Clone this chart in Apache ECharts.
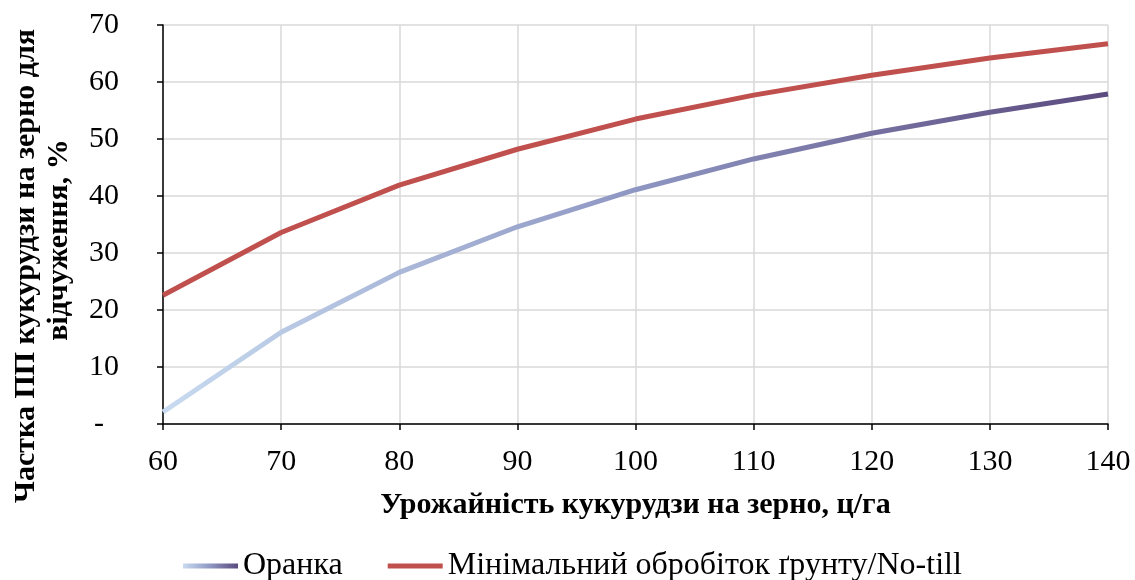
<!DOCTYPE html>
<html>
<head>
<meta charset="utf-8">
<script src="https://cdn.jsdelivr.net/npm/echarts@6/dist/echarts.min.js"></script>
<style>
  html, body { margin: 0; padding: 0; background: #fff; }
  #chart { width: 1135px; height: 580px; }
</style>
</head>
<body>
<div id="chart"></div>
<script>
// Урожайність, ц/га
const yields = [60, 70, 80, 90, 100, 110, 120, 130, 140];
// Частка побічної продукції для відчуження, %
const plowing = [2.1, 16.1, 26.6, 34.6, 41.1, 46.5, 51.0, 54.7, 57.9];
const noTill = [22.6, 33.6, 41.9, 48.2, 53.5, 57.7, 61.2, 64.2, 66.7];
const seriesNames = ['Оранка', 'Мінімальний обробіток ґрунту/No-till'];
const xTitle = 'Урожайність кукурудзи на зерно, ц/га';
const yTitleLines = ['Частка ПП кукурудзи на зерно для', 'відчуження, %'];

const serif = '"Liberation Serif", "Times New Roman", serif';
const plowGradient = new echarts.graphic.LinearGradient(0, 0, 1, 0, [
  { offset: 0, color: '#c8dbf0' },
  { offset: 0.5, color: '#8e96c2' },
  { offset: 1, color: '#5b4a7e' }
]);
const red = '#c0504d';

const chart = echarts.init(document.getElementById('chart'), null, { renderer: 'canvas' });
chart.setOption({
  animation: false,
  backgroundColor: '#ffffff',
  grid: { left: 163, right: 27, top: 25, bottom: 156, containLabel: false },
  xAxis: {
    type: 'value',
    min: 60, max: 140, interval: 10,
    name: xTitle,
    nameLocation: 'middle',
    nameGap: 66,
    nameTextStyle: { fontFamily: serif, fontWeight: 'bold', fontSize: 30, color: '#000' },
    axisLine: { onZero: false, lineStyle: { color: '#000', width: 1.5 } },
    axisTick: { show: true, length: 6, lineStyle: { color: '#000', width: 1.5 } },
    axisLabel: { fontFamily: serif, fontSize: 30, color: '#000', margin: 23 },
    splitLine: { show: true, lineStyle: { color: '#d9d9d9', width: 1.5 } }
  },
  yAxis: {
    type: 'value',
    min: 0, max: 70, interval: 10,
    axisLine: { show: true, lineStyle: { color: '#000', width: 1.5 } },
    axisTick: { show: true, length: 6, lineStyle: { color: '#000', width: 1.5 } },
    axisLabel: {
      fontFamily: serif, fontSize: 30, color: '#000', margin: 44,
      formatter: v => (v === 0 ? '-  ' : String(v))
    },
    splitLine: { show: true, lineStyle: { color: '#d9d9d9', width: 1.5 } }
  },
  legend: {
    top: 545,
    left: 178,
    itemGap: 45,
    itemWidth: 55,
    itemHeight: 5,
    icon: 'rect',
    textStyle: { fontFamily: serif, fontSize: 32, color: '#000' },
    data: seriesNames
  },
  graphic: [
    {
      type: 'text',
      x: 26,
      y: 266,
      rotation: Math.PI / 2,
      style: {
        text: yTitleLines[0],
        fontFamily: serif, fontWeight: 'bold', fontSize: 30,
        fill: '#000', align: 'center', verticalAlign: 'middle'
      }
    },
    {
      type: 'text',
      x: 59,
      y: 240,
      rotation: Math.PI / 2,
      style: {
        text: yTitleLines[1],
        fontFamily: serif, fontWeight: 'bold', fontSize: 30,
        fill: '#000', align: 'center', verticalAlign: 'middle'
      }
    }
  ],
  series: [
    {
      name: seriesNames[0],
      type: 'line',
      data: yields.map((x, i) => [x, plowing[i]]),
      showSymbol: false,
      symbol: 'none',
      lineStyle: { width: 5, color: plowGradient },
      itemStyle: { color: plowGradient }
    },
    {
      name: seriesNames[1],
      type: 'line',
      data: yields.map((x, i) => [x, noTill[i]]),
      showSymbol: false,
      symbol: 'none',
      lineStyle: { width: 5, color: red },
      itemStyle: { color: red }
    }
  ]
});
</script>
</body>
</html>
